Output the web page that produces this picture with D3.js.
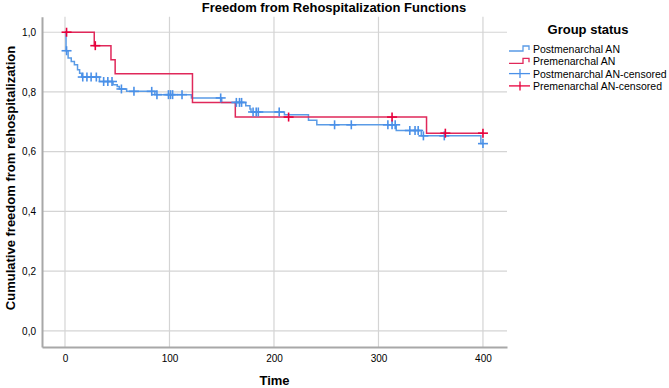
<!DOCTYPE html>
<html>
<head>
<meta charset="utf-8">
<script src="https://cdn.jsdelivr.net/npm/d3@7"></script>
<style>
body { margin: 0; background: #fff; }
text { font-family: Arial, "Liberation Sans", sans-serif; fill: #000; }
</style>
</head>
<body>
<div id="chart"></div>
<script>
// tick values
const xTicks = [0, 100, 200, 300, 400];
const yTicks = [0, 0.2, 0.4, 0.6, 0.8, 1.0];

// Postmenarchal AN: event times and survival after each event
const postTimes = [0, 1, 3, 6, 9, 12, 14, 16, 33, 46, 50, 52, 59, 86, 121, 150, 173, 177, 178, 210, 233, 241, 317, 341, 398];
const postSurv  = [1, 0.938, 0.914, 0.902, 0.891, 0.874, 0.863, 0.850, 0.835, 0.824, 0.818, 0.810, 0.802, 0.791, 0.780, 0.765, 0.754, 0.743, 0.733, 0.724, 0.705, 0.690, 0.671, 0.653, 0.627];
const postCensor = [1.5, 17, 21, 25, 30, 37, 41, 45, 54, 66, 83, 88, 99, 101, 103, 112, 149, 164, 167, 169, 180, 183, 185, 205, 258, 274, 309, 313, 316, 330, 335, 338, 343, 363, 400];
const postEnd = 400;

// Premenarchal AN
const preTimes = [0, 28, 44, 48, 122, 163, 346];
const preSurv  = [1, 0.955, 0.908, 0.861, 0.765, 0.716, 0.662];
const preCensor = [1.5, 29, 214, 313, 364, 400];
const preEnd = 400;

const groups = ["Postmenarchal AN", "Premenarchal AN"];
const colors = ["#5a9be6", "#e0285a"];
const censorColors = ["#4a90e8", "#e8003c"];

function createKMChart() {
    const width = 669, height = 388;
    const svg = d3.select("#chart").append("svg")
        .attr("width", width)
        .attr("height", height);

    const x = d3.scaleLinear().domain([-22, 423]).range([42, 507]);
    const y = d3.scaleLinear().domain([-0.054, 1.052]).range([347, 16.7]);

    // title
    svg.append("text")
        .attr("x", 334).attr("y", 12)
        .attr("text-anchor", "middle")
        .attr("font-size", 13).attr("font-weight", "bold")
        .text("Freedom from Rehospitalization Functions");

    // grid
    const grid = svg.append("g").attr("stroke", "#d4d4d4").attr("stroke-width", 1.2);
    grid.selectAll(".hg").data(yTicks).enter().append("line")
        .attr("x1", x.range()[0]).attr("x2", x.range()[1])
        .attr("y1", d => y(d)).attr("y2", d => y(d));
    grid.selectAll(".vg").data(xTicks).enter().append("line")
        .attr("y1", y.range()[0]).attr("y2", y.range()[1])
        .attr("x1", d => x(d)).attr("x2", d => x(d));

    // axes
    const xAxis = svg.append("g")
        .attr("transform", `translate(0,${y.range()[0]})`)
        .call(d3.axisBottom(x).tickValues(xTicks).tickSize(0).tickPadding(6));
    const yAxis = svg.append("g")
        .attr("transform", `translate(${x.range()[0]},0)`)
        .call(d3.axisLeft(y).tickValues(yTicks).tickSize(0).tickPadding(6)
            .tickFormat(d => d3.format(".1f")(d).replace(".", ",")));
    [xAxis, yAxis].forEach(a => {
        a.select(".domain").attr("stroke", "#a8a8a8").attr("stroke-width", 2);
        a.selectAll("text").attr("font-size", 10).attr("fill", "#222")
            .attr("font-family", "Arial, 'Liberation Sans', sans-serif");
    });
    xAxis.selectAll("text").attr("dy", "0.9em");

    // axis titles
    svg.append("text")
        .attr("x", (x.range()[0] + x.range()[1]) / 2).attr("y", 385)
        .attr("text-anchor", "middle")
        .attr("font-size", 13).attr("font-weight", "bold")
        .text("Time");
    svg.append("text")
        .attr("transform", "translate(15,178) rotate(-90)")
        .attr("text-anchor", "middle")
        .attr("font-size", 13).attr("font-weight", "bold")
        .text("Cumulative freedom from rehospitalization");

    const series = [
        {times: postTimes, surv: postSurv, censor: postCensor, end: postEnd},
        {times: preTimes, surv: preSurv, censor: preCensor, end: preEnd}
    ];

    const line = d3.line()
        .x(d => x(d[0]))
        .y(d => y(d[1]))
        .curve(d3.curveStepAfter);

    series.forEach((s, i) => {
        const pts = s.times.map((t, j) => [t, s.surv[j]]);
        pts.push([s.end, s.surv[s.surv.length - 1]]);
        svg.append("path")
            .datum(pts)
            .attr("fill", "none")
            .attr("stroke", colors[i])
            .attr("stroke-width", 1.5)
            .attr("d", line);
    });

    // censor marks
    series.forEach((s, i) => {
        const survAt = t => s.surv[d3.bisectRight(s.times, t) - 1];
        const g = svg.append("g")
            .attr("stroke", censorColors[i])
            .attr("stroke-width", 1.6);
        s.censor.forEach(t => {
            const cx = x(t), cy = y(survAt(t));
            g.append("line").attr("x1", cx - 5).attr("x2", cx + 5).attr("y1", cy).attr("y2", cy);
            g.append("line").attr("x1", cx).attr("x2", cx).attr("y1", cy - 4.5).attr("y2", cy + 4.5);
        });
    });

    // legend
    const legend = svg.append("g");
    legend.append("text")
        .attr("x", 588).attr("y", 34)
        .attr("text-anchor", "middle")
        .attr("font-size", 13).attr("font-weight", "bold")
        .text("Group status");

    const rows = [
        {label: groups[0], kind: "line", color: colors[0]},
        {label: groups[1], kind: "line", color: colors[1]},
        {label: groups[0] + "-censored", kind: "censor", color: censorColors[0]},
        {label: groups[1] + "-censored", kind: "censor", color: censorColors[1]}
    ];
    rows.forEach((r, i) => {
        const ry = 49 + i * 12.3;
        if (r.kind === "line") {
            legend.append("path")
                .attr("d", `M509,${ry + 2}H523V${ry - 3}H529V${ry + 1}`)
                .attr("fill", "none").attr("stroke", r.color).attr("stroke-width", 1.3);
        } else {
            legend.append("line").attr("x1", 509).attr("x2", 530).attr("y1", ry).attr("y2", ry)
                .attr("stroke", r.color).attr("stroke-width", 1.3);
            legend.append("line").attr("x1", 520).attr("x2", 520).attr("y1", ry - 4.5).attr("y2", ry + 4.5)
                .attr("stroke", r.color).attr("stroke-width", 1.3);
        }
        legend.append("text")
            .attr("x", 533).attr("y", ry + 4)
            .attr("font-size", 10.5).attr("fill", "#222")
            .text(r.label);
    });
}

createKMChart();
</script>
</body>
</html>
